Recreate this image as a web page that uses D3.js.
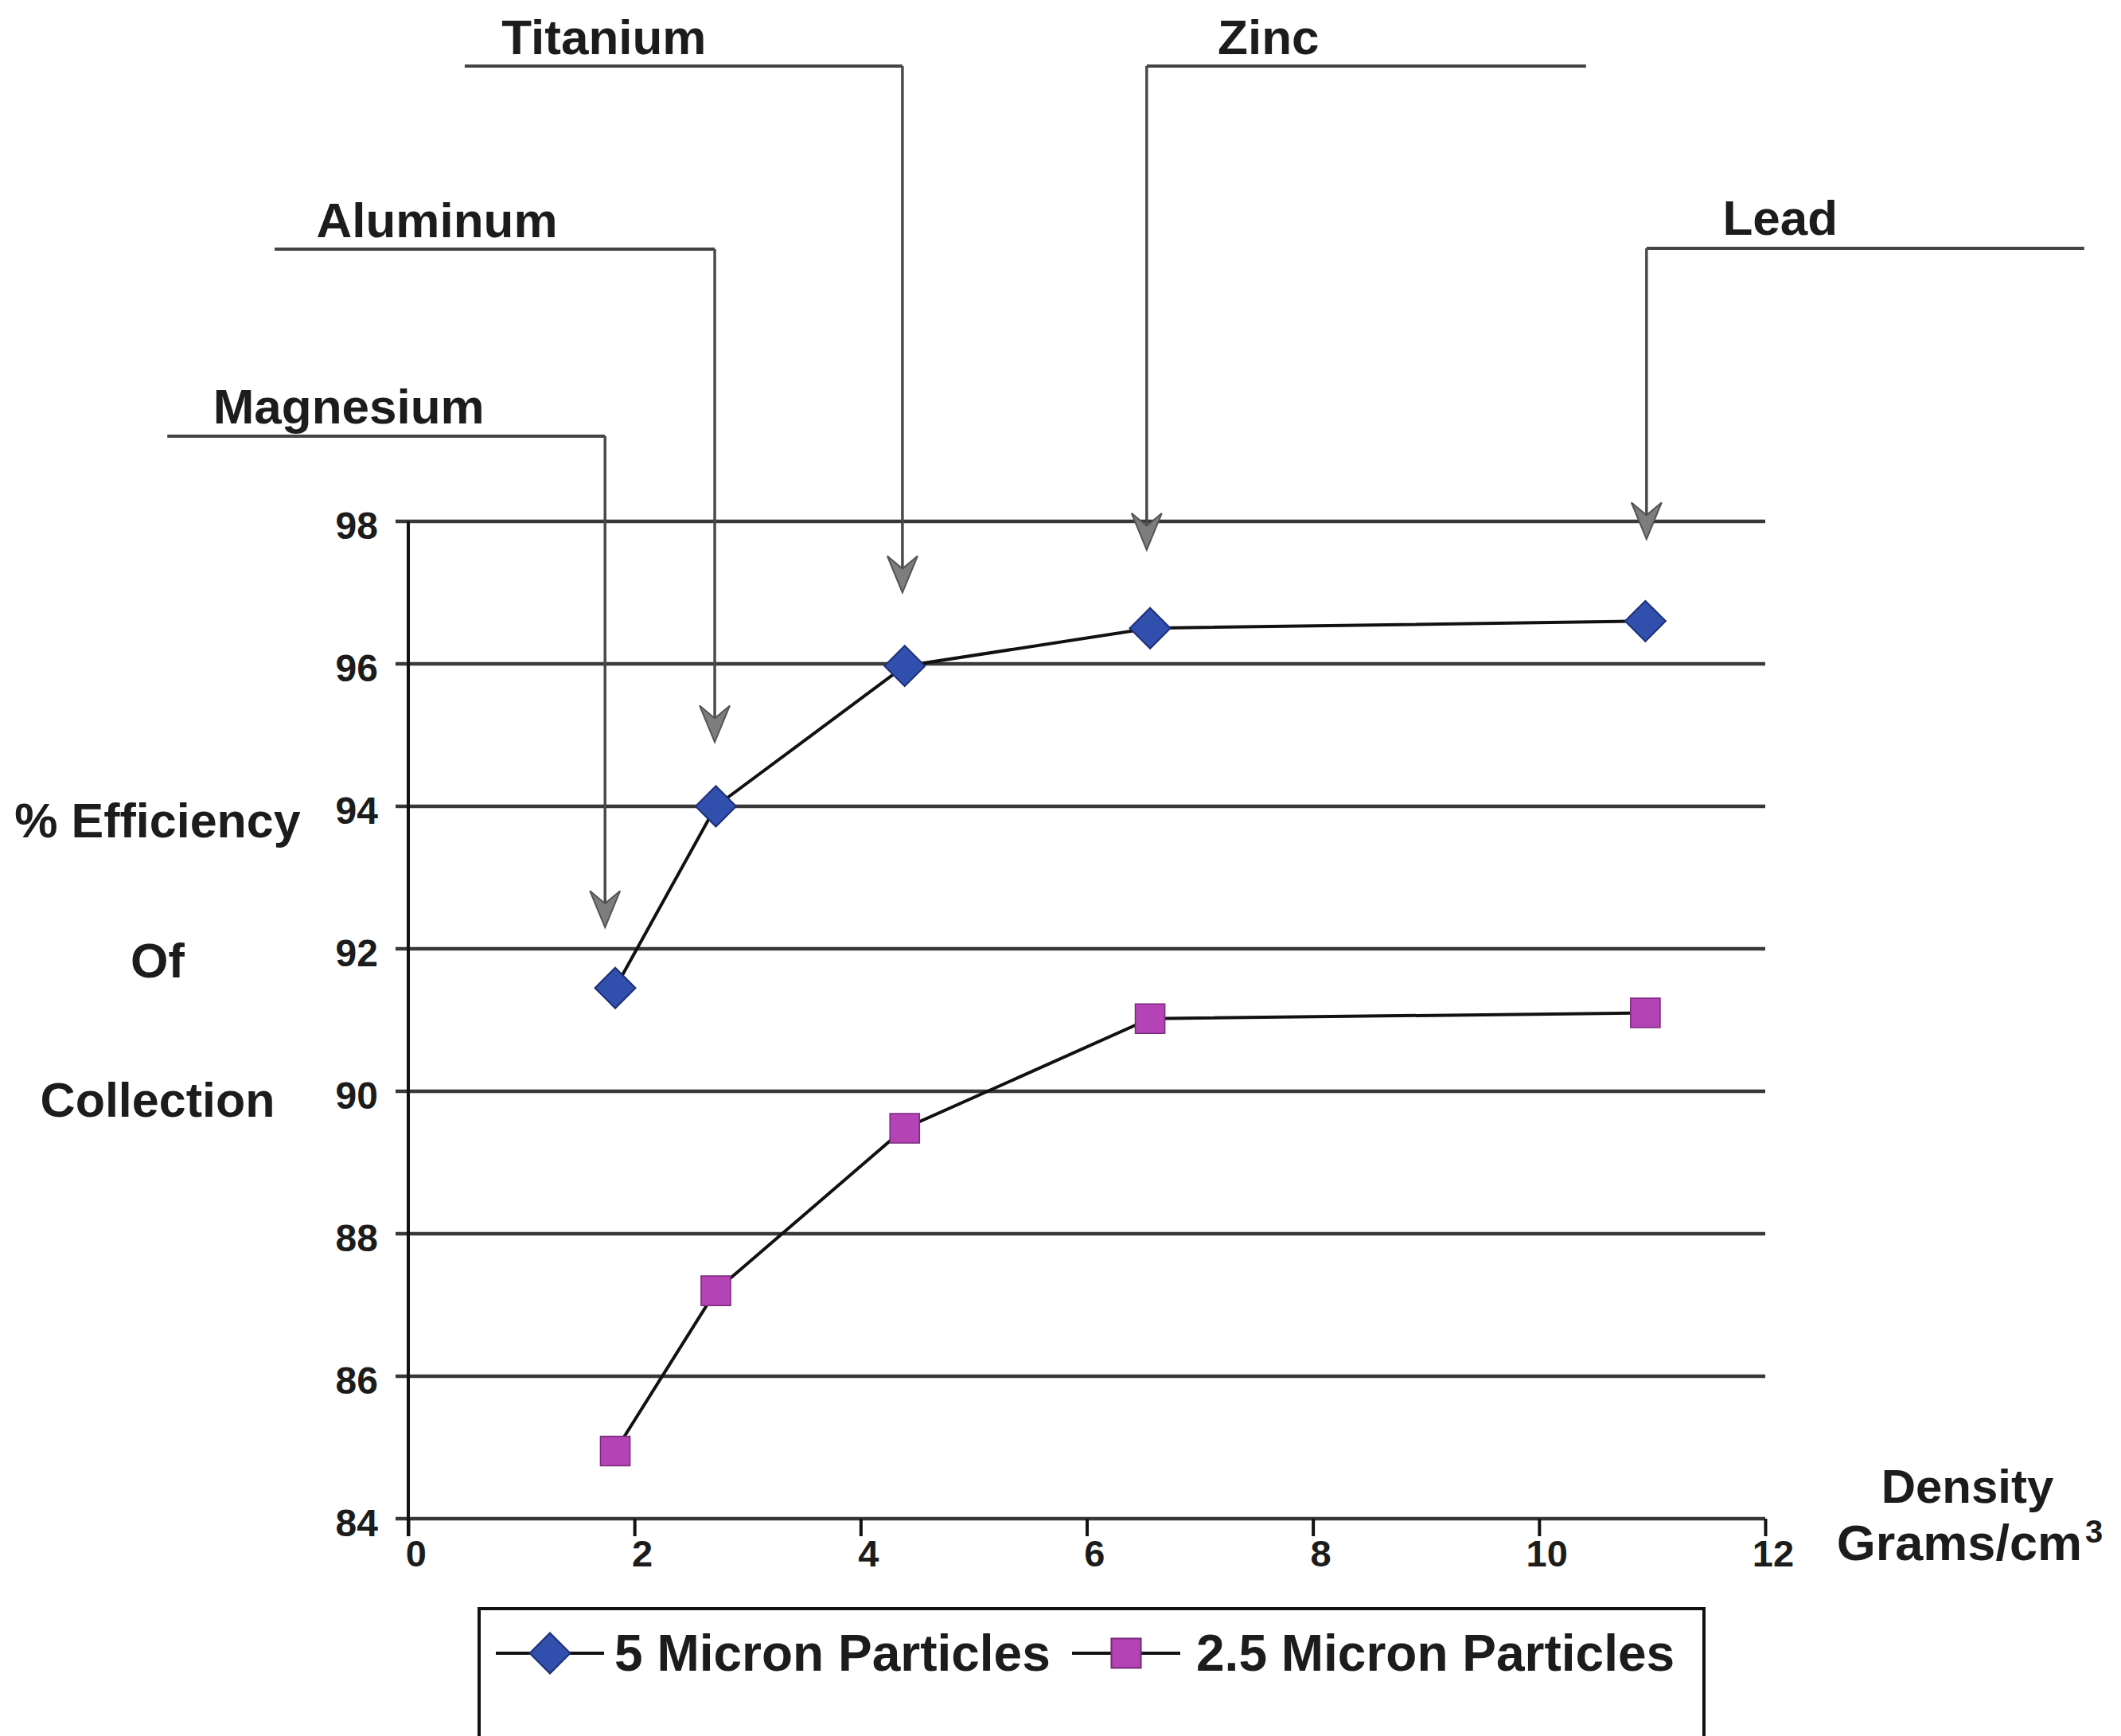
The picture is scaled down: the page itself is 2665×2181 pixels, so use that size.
<!DOCTYPE html>
<html>
<head>
<meta charset="utf-8">
<script src="https://cdn.jsdelivr.net/npm/d3@7"></script>
<style>
  html, body { margin: 0; padding: 0; background: #fff; }
  svg { display: block; }
  text { font-family: "Liberation Sans", Arial, sans-serif; font-weight: bold; fill: #1c1c1c; }
</style>
</head>
<body>
<div id="chart"></div>
<script>
// Density of each metal (g/cm3) as plotted
const density = [1.83, 2.72, 4.39, 6.56, 10.94];
// % efficiency of collection
const micron5 = [91.45, 94.0, 95.97, 96.5, 96.6];
const micron25 = [84.95, 87.2, 89.48, 91.02, 91.1];
const seriesNames = ["5 Micron Particles", "2.5 Micron Particles"];

// Callout arrows: metal name, arrow x (density), arrow tip (% value)
const metals = ["Magnesium", "Aluminum", "Titanium", "Zinc", "Lead"];
const arrowX = [1.74, 2.71, 4.37, 6.53, 10.95];
const arrowTip = [92.3, 94.9, 97.0, 97.6, 97.75];

const xTicks = [0, 2, 4, 6, 8, 10, 12];
const yTicks = [84, 86, 88, 90, 92, 94, 96, 98];

// Layout for the callout labels (leader line y, line extent relative to arrow, text offset)
const calloutLayout = [
  { lineY: 548, side: -1, len: 550, textDx: -322, textY: 532 },
  { lineY: 313, side: -1, len: 553, textDx: -349, textY: 298 },
  { lineY: 83,  side: -1, len: 550, textDx: -375, textY: 68 },
  { lineY: 83,  side: 1,  len: 552, textDx: 153,  textY: 68 },
  { lineY: 312, side: 1,  len: 550, textDx: 168,  textY: 295 }
];

const width = 2665;
const height = 2181;

const svg = d3.select("#chart")
  .append("svg")
  .attr("width", width)
  .attr("height", height);

const x = d3.scaleLinear().domain([0, 12]).range([513, 2218]);
const y = d3.scaleLinear().domain([84, 98]).range([1908, 655]);

// Horizontal gridlines
svg.append("g")
  .selectAll("line")
  .data(yTicks)
  .enter()
  .append("line")
  .attr("x1", x(0) - 16)
  .attr("x2", x(12))
  .attr("y1", d => y(d))
  .attr("y2", d => y(d))
  .attr("stroke", "#383838")
  .attr("stroke-width", 4.5);

// Y axis line
svg.append("line")
  .attr("x1", x(0)).attr("x2", x(0))
  .attr("y1", y(98)).attr("y2", y(84) + 22)
  .attr("stroke", "#111")
  .attr("stroke-width", 4);

// Y tick labels
const yAxis = svg.append("g")
  .attr("transform", `translate(${x(0)},0)`)
  .call(d3.axisLeft(y).tickValues(yTicks).tickSize(0).tickPadding(38));
yAxis.select(".domain").remove();
yAxis.selectAll("text")
  .attr("dy", "0.45em")
  .style("font-size", "48px")
  .style("fill", "#1c1c1c");

// X axis ticks and labels
const xAxis = svg.append("g")
  .attr("transform", `translate(0,${y(84)})`)
  .call(d3.axisBottom(x).tickValues(xTicks).tickSize(22).tickPadding(5));
xAxis.select(".domain").remove();
xAxis.selectAll("line").attr("stroke", "#111").attr("stroke-width", 4);
xAxis.selectAll("text")
  .attr("dx", "0.2em")
  .style("font-size", "47px")
  .style("fill", "#1c1c1c");

// Callout arrows
const arrowHead = "M0,0 L-19,-46 L0,-30 L19,-46 Z";
const callouts = svg.append("g");
metals.forEach((name, i) => {
  const L = calloutLayout[i];
  const ax = x(arrowX[i]);
  const tipY = y(arrowTip[i]);
  const x2 = ax + L.side * L.len;
  callouts.append("path")
    .attr("d", `M${Math.min(ax, x2)},${L.lineY} L${Math.max(ax, x2)},${L.lineY}`)
    .attr("stroke", "#444")
    .attr("stroke-width", 4)
    .attr("fill", "none");
  callouts.append("line")
    .attr("x1", ax).attr("x2", ax)
    .attr("y1", L.lineY).attr("y2", tipY - 30)
    .attr("stroke", "#4a4a4a")
    .attr("stroke-width", 3.5);
  callouts.append("path")
    .attr("d", arrowHead)
    .attr("transform", `translate(${ax},${tipY})`)
    .attr("fill", "#7d7d7d")
    .attr("stroke", "#555")
    .attr("stroke-width", 2);
  callouts.append("text")
    .attr("x", ax + L.textDx)
    .attr("y", L.textY)
    .attr("text-anchor", "middle")
    .style("font-size", "62px")
    .text(name);
});

// Series lines
const line = d3.line()
  .x(d => x(d[0]))
  .y(d => y(d[1]));

const s5 = density.map((d, i) => [d, micron5[i]]);
const s25 = density.map((d, i) => [d, micron25[i]]);

[s5, s25].forEach(s => {
  svg.append("path")
    .datum(s)
    .attr("d", line)
    .attr("fill", "none")
    .attr("stroke", "#111")
    .attr("stroke-width", 4);
});

const diamond = d3.symbol().type(d3.symbolSquare).size(1300);
const square = d3.symbol().type(d3.symbolSquare).size(1380);
const blue = "#3150ad";
const magenta = "#b443b6";

svg.append("g")
  .selectAll("path")
  .data(s5)
  .enter()
  .append("path")
  .attr("d", diamond)
  .attr("transform", d => `translate(${x(d[0])},${y(d[1])}) rotate(45)`)
  .attr("fill", blue)
  .attr("stroke", "#1d2f78")
  .attr("stroke-width", 2);

svg.append("g")
  .selectAll("path")
  .data(s25)
  .enter()
  .append("path")
  .attr("d", square)
  .attr("transform", d => `translate(${x(d[0])},${y(d[1])})`)
  .attr("fill", magenta)
  .attr("stroke", "#7a2b7c")
  .attr("stroke-width", 1.5);

// Y axis title
const yTitle = ["% Efficiency", "Of", "Collection"];
const yTitleY = [1052, 1228, 1403];
svg.append("g")
  .selectAll("text")
  .data(yTitle)
  .enter()
  .append("text")
  .attr("x", 198)
  .attr("y", (d, i) => yTitleY[i])
  .attr("text-anchor", "middle")
  .style("font-size", "61px")
  .text(d => d);

// X axis title
svg.append("text")
  .attr("x", 2472)
  .attr("y", 1888)
  .attr("text-anchor", "middle")
  .style("font-size", "60px")
  .text("Density");

const xt = svg.append("text")
  .attr("x", 2475)
  .attr("y", 1960)
  .attr("text-anchor", "middle")
  .style("font-size", "63px");
xt.append("tspan").text("Grams/cm");
xt.append("tspan").attr("dx", "4").attr("dy", "-0.55em").style("font-size", "40px").text("3");

// Legend
const legendTop = 2021;
const legendY = 2077;
const legend = svg.append("g");
legend.append("rect")
  .attr("x", 602)
  .attr("y", legendTop)
  .attr("width", 1539)
  .attr("height", 200)
  .attr("fill", "none")
  .attr("stroke", "#111")
  .attr("stroke-width", 4);

const legendItems = [
  { name: seriesNames[0], x0: 623, x1: 759, sym: diamond, rot: 45, fill: blue, stroke: "#1d2f78", tx: 772 },
  { name: seriesNames[1], x0: 1347, x1: 1483, sym: square, rot: 0, fill: magenta, stroke: "#7a2b7c", tx: 1503 }
];
legendItems.forEach(it => {
  legend.append("line")
    .attr("x1", it.x0).attr("x2", it.x1)
    .attr("y1", legendY).attr("y2", legendY)
    .attr("stroke", "#111")
    .attr("stroke-width", 4);
  legend.append("path")
    .attr("d", it.sym)
    .attr("transform", `translate(${(it.x0 + it.x1) / 2},${legendY}) rotate(${it.rot})`)
    .attr("fill", it.fill)
    .attr("stroke", it.stroke)
    .attr("stroke-width", 2);
  legend.append("text")
    .attr("x", it.tx)
    .attr("y", legendY + 22)
    .style("font-size", "64px")
    .text(it.name);
});
</script>
</body>
</html>
